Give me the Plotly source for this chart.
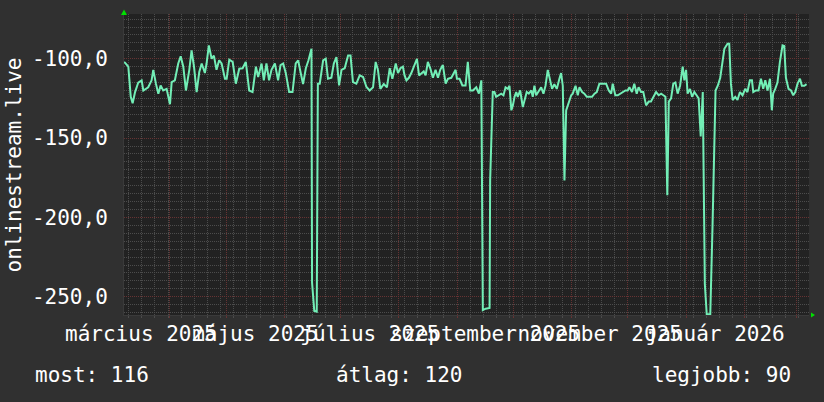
import plotly.graph_objects as go
from datetime import datetime, timedelta

# ---- data -------------------------------------------------------------
start = datetime(2025, 3, 7, 12)
end = start + timedelta(days=365)

day_offsets = [
    0.0, 0.5, 2.3, 3.6, 4.6, 5.9, 7.6, 9.4, 10.3, 12.9, 14.7, 15.6, 17.0, 18.3, 19.5,
    20.9, 22.7, 24.5, 25.4, 27.1, 28.9, 30.2, 31.6, 33.0, 34.8, 36.0, 37.3, 38.7,
    40.1, 41.4, 43.1, 44.0, 45.2, 46.7, 47.9, 49.3, 50.7, 52.0, 53.8, 54.7, 56.1,
    57.9, 59.6, 61.4, 63.2, 64.9, 66.7, 68.5, 70.3, 71.5, 73.3, 74.5, 75.9, 77.3,
    78.6, 80.4, 82.1, 83.4, 84.8, 86.2, 88.0, 89.8, 91.5, 92.8, 94.0, 95.4, 96.9,
    98.3, 99.9, 100.2, 101.4, 102.7, 103.3, 104.3, 106.1, 107.5, 108.7, 110.5,
    111.8, 113.2, 114.6, 115.9, 117.6, 119.4, 120.7, 122.0, 123.8, 125.6, 127.4,
    129.2, 130.9, 132.7, 134.1, 135.3, 136.6, 138.4, 140.1, 141.6, 143.0, 144.8,
    146.0, 147.3, 148.6, 149.5, 150.5, 151.8, 153.1, 154.9, 156.1, 157.2, 158.4,
    159.7, 160.7, 161.9, 163.2, 164.6, 166.0, 167.3, 168.5, 169.9, 171.4, 172.6,
    174.4, 176.7, 177.4, 178.8, 180.3, 182.0, 183.2, 184.5, 185.9, 187.7, 189.1,
    190.4, 191.2, 192.7, 194.8, 195.1, 196.5, 197.4, 198.3, 199.7, 201.0, 202.2,
    203.3, 204.5, 205.4, 206.4, 207.2, 208.1, 209.0, 209.8, 211.1, 212.5, 213.4,
    214.6, 215.7, 217.0, 217.8, 218.7, 219.6, 221.0, 222.3, 223.5, 224.6, 225.8,
    226.7, 228.1, 229.3, 230.6, 232.0, 232.9, 233.8, 234.7, 235.6, 237.0, 238.3,
    239.1, 240.6, 241.8, 242.7, 244.1, 245.3, 246.6, 248.0, 249.4, 250.7, 251.9,
    253.3, 255.1, 256.9, 258.3, 259.6, 260.4, 261.8, 263.1, 264.3, 265.7, 267.2,
    268.4, 269.3, 270.7, 271.9, 273.2, 274.2, 275.5, 276.7, 278.2, 279.6, 280.8,
    282.1, 283.5, 284.9, 286.2, 287.4, 288.5, 289.5, 290.3, 291.5, 292.7, 293.8,
    295.0, 296.3, 297.7, 298.6, 299.5, 300.3, 301.6, 302.7, 303.9, 305.1, 306.2,
    307.3, 308.4, 309.5, 310.5, 312.4, 313.3, 313.6, 315.2, 316.4, 317.7, 318.6,
    319.9, 321.6, 322.5, 323.4, 324.3, 325.7, 326.9, 328.2, 329.6, 331.0, 332.2,
    333.5, 334.6, 335.3, 336.7, 338.1, 339.4, 340.6, 341.7, 342.9, 344.2, 345.2,
    345.9, 347.0, 348.2, 349.5, 350.9, 351.8, 352.7, 354.1, 355.4, 356.6, 357.7,
    358.9, 360.2, 361.2, 362.5, 363.7,
]
values = [
    -102, -102.5, -105, -124, -128, -121, -115, -113.6, -120, -118, -113.6, -107, -115.7, -122, -116.8,
    -120, -119, -128.7, -114.7, -113.6, -103, -98.5, -105, -120, -107, -94.8, -105, -121,
    -108.4, -103, -109, -103, -91.6, -100, -98, -107, -101, -103, -112.6, -112.6, -100.6,
    -102, -115.7, -106.3, -106, -102, -120, -121, -105, -111.5, -103, -113.6, -103, -113.6,
    -107, -103, -113.6, -104, -103, -109, -121, -121, -103, -101, -108, -116, -106,
    -101, -93.7, -241, -259, -259.4, -115.7, -115.7, -101, -100, -112.6, -112,
    -103, -99, -116.8, -107, -106, -98, -98, -114.7, -115.7, -110.5, -111.5,
    -117.8, -120, -118, -102, -107, -119, -116, -118, -106, -112.6, -103,
    -109, -106, -105, -110.5, -113.6, -112, -109, -103, -100, -110.5, -109,
    -108, -110.5, -102, -106, -112, -107, -112, -107, -104, -115.7, -112.6,
    -112, -107, -112.6, -112.6, -116.8, -116.8, -102, -120, -120, -118, -122,
    -113.6, -258.4, -257.5, -257, -176.5, -121, -121, -124, -123, -122, -123,
    -118, -119, -117, -132.5, -129.4, -124, -121, -124, -120, -130.4, -127,
    -121, -122, -120, -124, -117, -123, -120, -118, -122, -117, -107,
    -112, -119, -116, -119, -112.6, -109, -117, -176.7, -132.5, -127, -123,
    -122, -117, -123, -118, -121, -122, -124, -124, -124, -122, -121,
    -115.7, -115.7, -115.7, -120, -122, -115.7, -123, -123, -122, -121, -120,
    -120, -118, -121, -115.7, -122, -118, -121, -121, -129.4, -127, -127,
    -124, -121, -123, -122, -123, -124, -186, -127, -125, -115.7, -115,
    -122, -117, -105, -113.6, -107, -122, -119, -124, -121, -123, -125,
    -149, -121, -242, -261, -261, -205, -205, -120, -117, -112, -103,
    -93.7, -90.6, -90.6, -115.7, -126, -124, -126, -121, -123, -119, -121,
    -113.6, -113.6, -121, -120, -120, -112.6, -119, -113.6, -120, -112.6, -132.5,
    -122, -119, -115, -102, -91.6, -92, -112, -119, -120, -123, -121,
    -115.7, -112.6, -117, -117, -116,
]

month_starts = [
    "2025-04-01", "2025-05-01", "2025-06-01", "2025-07-01", "2025-08-01", "2025-09-01",
    "2025-10-01", "2025-11-01", "2025-12-01", "2026-01-01", "2026-02-01", "2026-03-01",
]
label_dates = [
    "2025-03-16 12:00", "2025-05-16 12:00", "2025-07-16 12:00",
    "2025-09-16 00:00", "2025-11-16 00:00", "2026-01-16 12:00",
]
label_texts = [
    "március 2025", "május 2025", "július 2025",
    "szeptember 2025", "november 2025", "január 2026",
]
y_ticks = [-100, -150, -200, -250]
y_tick_texts = ["-100,0", "-150,0", "-200,0", "-250,0"]
series_name = "onlinestream.live"
legend_items = [("most", 116), ("átlag", 120), ("legjobb", 90)]

# ---- derived ----------------------------------------------------------
dates = [start + timedelta(days=d) for d in day_offsets]
week_lines = []
w = datetime(2025, 3, 10)
while w < end:
    week_lines.append(w)
    w += timedelta(days=7)

FONT = "DejaVu Sans Mono"
TXT = "#ffffff"
MINOR = "#4c4c4c"
MAJOR = "#663333"
BG = "#303030"

fig = go.Figure()
fig.add_trace(go.Scatter(
    x=dates, y=values, mode="lines",
    line=dict(color="#72eeb6", width=2),
    showlegend=False, hoverinfo="skip",
))
# invisible trace to hold the month-grid axis
fig.add_trace(go.Scatter(
    x=[start, end], y=[None, None], xaxis="x2", mode="lines",
    showlegend=False, hoverinfo="skip",
))

fig.update_layout(
    width=824, height=402,
    margin=dict(l=124, r=15, t=14, b=87),
    paper_bgcolor=BG, plot_bgcolor="#222222",
    font=dict(family=FONT, size=21, color=TXT),
    xaxis=dict(
        type="date", range=[start, end], automargin=False,
        tickmode="array", tickvals=label_dates, ticktext=label_texts,
        tickangle=0,
        showgrid=False, zeroline=False, ticks="",
        ticklabelstandoff=0,
        tickfont=dict(family=FONT, size=21, color=TXT),
        showline=True, linecolor="#3a3a3a", linewidth=1,
        minor=dict(tickmode="array", tickvals=week_lines, showgrid=True,
                   gridcolor=MINOR, griddash="1px,1px", gridwidth=1,
                   ticks="outside", ticklen=2, tickcolor=MINOR),
    ),
    xaxis2=dict(
        type="date", range=[start, end], overlaying="x", anchor="y",
        automargin=False,
        tickmode="array", tickvals=month_starts, showticklabels=False,
        showgrid=True, gridcolor=MAJOR, griddash="1px,1px", gridwidth=1,
        ticks="outside", ticklen=2, tickcolor=MAJOR, zeroline=False,
    ),
    yaxis=dict(
        range=[-261.5, -71.8], automargin=False,
        tickmode="array", tickvals=y_ticks, ticktext=y_tick_texts,
        showgrid=True, gridcolor=MAJOR, griddash="1px,1px", gridwidth=1,
        zeroline=False, ticks="",
        ticklabelstandoff=11,
        tickfont=dict(family=FONT, size=21, color=TXT),
        showline=True, linecolor="#3a3a3a", linewidth=1,
        minor=dict(dtick=5, tick0=0, showgrid=True, gridcolor=MINOR,
                   griddash="1px,1px", gridwidth=1),
    ),
)

# y-axis title (rotated)
fig.add_annotation(
    text=series_name, textangle=-90, showarrow=False,
    xref="paper", yref="paper", x=(13 - 124) / 685, y=0.5,
    xanchor="center", yanchor="middle",
    font=dict(family=FONT, size=21, color=TXT),
)

# legend/statistics line
legend_x = [33, 334, 650]
for (name, val), px in zip(legend_items, legend_x):
    fig.add_annotation(
        text=f"{name}: {val}", showarrow=False,
        xref="paper", yref="paper", x=(px - 124) / 685, y=-(375 - 315) / 301,
        xanchor="left", yanchor="middle",
        font=dict(family=FONT, size=21, color=TXT),
    )

# green axis arrows
fig.add_shape(type="path", xref="paper", yref="paper",
              path="M -0.0044 0.9967 L 0.0044 0.9967 L 0 1.0150 Z",
              fillcolor="#00e000", line=dict(width=0))
fig.add_shape(type="path", xref="paper", yref="paper",
              path="M 1.0029 0.0083 L 1.0029 -0.0083 L 1.0088 0 Z",
              fillcolor="#00e000", line=dict(width=0))

fig.write_html(
    "out.html",
    config={"displayModeBar": False, "staticPlot": True},
    post_script=(
        "document.body.style.margin='0';"
        "document.body.style.padding='0';"
        f"document.body.style.background='{BG}';"
        "document.documentElement.style.overflow='hidden';"
    ),
)
